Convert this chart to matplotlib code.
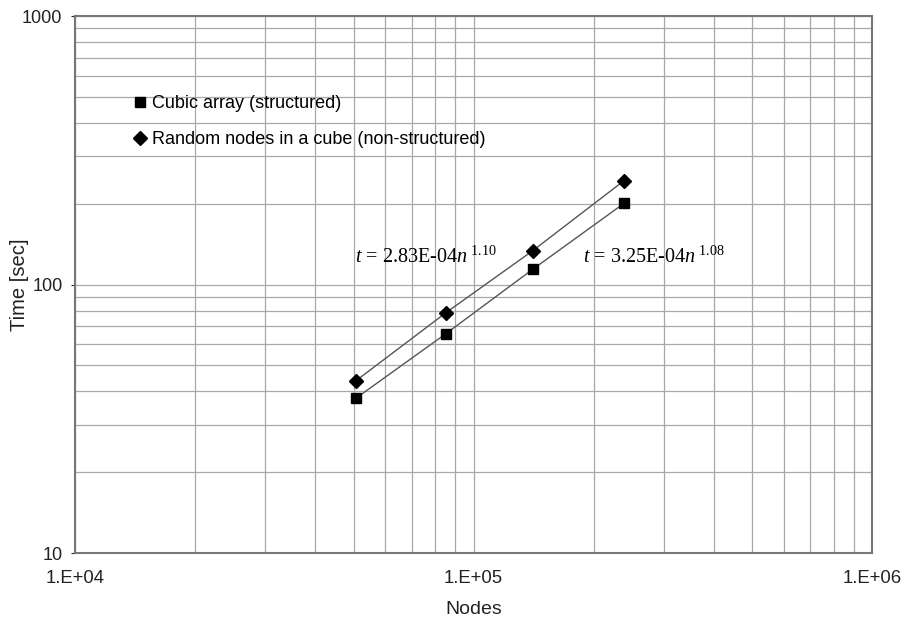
import matplotlib.pyplot as plt
import numpy as np
from matplotlib.ticker import LogLocator, FixedLocator, NullFormatter

plt.rcParams['font.family'] = ['Liberation Sans', 'DejaVu Sans']
plt.rcParams['mathtext.fontset'] = 'custom'
plt.rcParams['mathtext.rm'] = 'Liberation Serif'
plt.rcParams['mathtext.it'] = 'Liberation Serif:italic'

# data
nodes = [50653, 85184, 140608, 238328]
t_cubic = [37.7, 65.6, 113.9, 200.6]
t_random = [43.8, 78.5, 133.6, 243.6]

x_ticks = [1e4, 1e5, 1e6]
x_labels = ['1.E+04', '1.E+05', '1.E+06']
y_ticks = [10, 100, 1000]
y_labels = ['10', '100', '1000']

fig = plt.figure(figsize=(9.09, 6.20), dpi=100)
ax = fig.add_axes([0.0825, 0.108, 0.877, 0.866])

ax.plot(nodes, t_cubic, color='#555555', lw=1, zorder=3)
ax.plot(nodes, t_random, color='#555555', lw=1, zorder=3)
ax.plot(nodes, t_cubic, ls='none', marker='s', ms=7.5, color='black', zorder=4,
        label='Cubic array (structured)')
ax.plot(nodes, t_random, ls='none', marker='D', ms=7.5, color='black', zorder=4,
        label='Random nodes in a cube (non-structured)')

ax.set_xscale('log')
ax.set_yscale('log')
ax.set_xlim(1e4, 1e6)
ax.set_ylim(10, 1000)
ax.xaxis.set_major_locator(FixedLocator(x_ticks))
ax.yaxis.set_major_locator(FixedLocator(y_ticks))
ax.set_xticklabels(x_labels)
ax.set_yticklabels(y_labels)
ax.xaxis.set_minor_locator(LogLocator(base=10, subs=np.arange(2, 10)))
ax.yaxis.set_minor_locator(LogLocator(base=10, subs=np.arange(2, 10)))
ax.xaxis.set_minor_formatter(NullFormatter())
ax.yaxis.set_minor_formatter(NullFormatter())

ax.grid(True, which='both', color='#a8a8a8', lw=0.9)
ax.set_axisbelow(True)
ax.tick_params(which='minor', length=0)
ax.tick_params(axis='x', which='major', length=0, pad=12.5, labelsize=13.3, colors='#222222')
ax.tick_params(axis='y', which='major', length=3, pad=6, labelsize=13, colors='#222222')
for s in ax.spines.values():
    s.set_color('#777777')
    s.set_linewidth(1.5)

ax.set_xlabel('Nodes', fontsize=14, labelpad=9.5, color='#222222')
ax.set_ylabel('Time [sec]', fontsize=14.5, labelpad=-5, color='#222222')

leg = ax.legend(loc='upper left', bbox_to_anchor=(0.066, 0.866), frameon=False,
                fontsize=13, handlelength=0.6, handletextpad=0.37, labelspacing=1.05,
                borderaxespad=0, markerscale=0.9)

ax.text(5.04e4, 126.6, r'$t$ = 2.83E-04$n^{\ 1.10}$', fontsize=14.5,
        family='Liberation Serif', va='center')
ax.text(1.88e5, 126.6, r'$t$ = 3.25E-04$n^{\ 1.08}$', fontsize=14.5,
        family='Liberation Serif', va='center')

fig.savefig('out.png', dpi=100)
